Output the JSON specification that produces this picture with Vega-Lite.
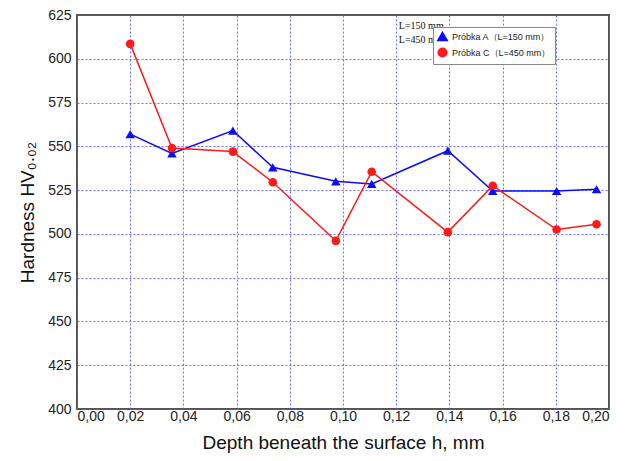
{
  "$schema": "https://vega.github.io/schema/vega-lite/v6.json",
  "width": 532,
  "height": 394,
  "autosize": {"type": "none"},
  "padding": {"left": 77, "top": 15, "right": 20, "bottom": 52},
  "background": "white",
  "config": {
    "font": "Liberation Sans",
    "view": {"stroke": "#555555", "strokeWidth": 2},
    "axis": {
      "domain": false,
      "ticks": false,
      "grid": true,
      "gridColor": "#5555ff",
      "gridDash": [2, 2],
      "gridWidth": 1,
      "gridOpacity": 0.85,
      "labelFont": "Liberation Sans",
      "labelFontSize": 14,
      "labelColor": "#222222",
      "titleFont": "Liberation Sans",
      "titleFontSize": 19,
      "titleFontWeight": "normal",
      "titleColor": "#111111"
    },
    "legend": {
      "orient": "none",
      "legendX": 356,
      "legendY": 12,
      "direction": "vertical",
      "fillColor": "white",
      "strokeColor": "#888888",
      "padding": 4,
      "rowPadding": 1,
      "labelFontSize": 9,
      "labelColor": "#222222"
    }
  },
  "datasets": {
    "pts": [
      {"h": 0.020, "hv": 557, "s": "A"},
      {"h": 0.0357, "hv": 546, "s": "A"},
      {"h": 0.0586, "hv": 559, "s": "A"},
      {"h": 0.0736, "hv": 538, "s": "A"},
      {"h": 0.0973, "hv": 530, "s": "A"},
      {"h": 0.1108, "hv": 528.5, "s": "A"},
      {"h": 0.1394, "hv": 547.5, "s": "A"},
      {"h": 0.1563, "hv": 524.5, "s": "A"},
      {"h": 0.1803, "hv": 524.5, "s": "A"},
      {"h": 0.1953, "hv": 525.5, "s": "A"},
      {"h": 0.020, "hv": 608.5, "s": "C"},
      {"h": 0.0357, "hv": 549, "s": "C"},
      {"h": 0.0586, "hv": 547, "s": "C"},
      {"h": 0.0736, "hv": 529.5, "s": "C"},
      {"h": 0.0973, "hv": 496, "s": "C"},
      {"h": 0.1108, "hv": 535.5, "s": "C"},
      {"h": 0.1394, "hv": 501, "s": "C"},
      {"h": 0.1563, "hv": 527.5, "s": "C"},
      {"h": 0.1803, "hv": 502.5, "s": "C"},
      {"h": 0.1953, "hv": 505.5, "s": "C"}
    ],
    "notes": [
      {"h": 0.121, "hv": 619, "t": "L=150 mm"},
      {"h": 0.121, "hv": 610.5, "t": "L=450 mm"}
    ]
  },
  "layer": [
    {
      "data": {"name": "pts"},
      "mark": {"type": "line", "strokeWidth": 1.5},
      "encoding": {
        "x": {
          "field": "h", "type": "quantitative",
          "scale": {"domain": [0, 0.2], "nice": false},
          "axis": {"values": [0, 0.02, 0.04, 0.06, 0.08, 0.1, 0.12, 0.14, 0.16, 0.18, 0.2],
                   "labelExpr": "replace(format(datum.value, '.2f'), '.', ',')",
                   "labelPadding": 0,
                   "title": "Depth beneath the surface h, mm", "titlePadding": 10}
        },
        "y": {
          "field": "hv", "type": "quantitative",
          "scale": {"domain": [400, 625], "nice": false, "zero": false},
          "axis": {"values": [400, 425, 450, 475, 500, 525, 550, 575, 600, 625],
                   "labelPadding": 6,
                   "title": "Hardness HV₀.₀₂", "titlePadding": 10}
        },
        "color": {
          "field": "s", "type": "nominal",
          "scale": {"domain": ["A", "C"], "range": ["#0a0aff", "#ff1a1a"]},
          "legend": {
            "title": null,
            "symbolSize": 50,
            "labelExpr": "datum.value == 'A' ? 'Próbka A（L=150 mm）' : 'Próbka C（L=450 mm）'"
          }
        },
        "detail": {"field": "s"}
      }
    },
    {
      "data": {"name": "pts"},
      "mark": {"type": "point", "filled": true, "opacity": 1},
      "encoding": {
        "x": {"field": "h", "type": "quantitative"},
        "y": {"field": "hv", "type": "quantitative"},
        "color": {
          "field": "s", "type": "nominal",
          "scale": {"domain": ["A", "C"], "range": ["#0a0aff", "#ff1a1a"]},
          "legend": {
            "title": null,
            "symbolSize": 50,
            "labelExpr": "datum.value == 'A' ? 'Próbka A（L=150 mm）' : 'Próbka C（L=450 mm）'"
          }
        },
        "shape": {
          "field": "s", "type": "nominal",
          "scale": {"domain": ["A", "C"], "range": ["triangle-up", "circle"]},
          "legend": {
            "title": null,
            "symbolSize": 50,
            "labelExpr": "datum.value == 'A' ? 'Próbka A（L=150 mm）' : 'Próbka C（L=450 mm）'"
          }
        },
        "size": {
          "field": "s", "type": "nominal",
          "scale": {"domain": ["A", "C"], "range": [90, 75]},
          "legend": null
        }
      }
    },
    {
      "data": {"name": "notes"},
      "mark": {"type": "text", "font": "Liberation Serif", "fontSize": 10, "align": "left", "color": "#111111"},
      "encoding": {
        "x": {"field": "h", "type": "quantitative"},
        "y": {"field": "hv", "type": "quantitative"},
        "text": {"field": "t"}
      }
    }
  ]
}
